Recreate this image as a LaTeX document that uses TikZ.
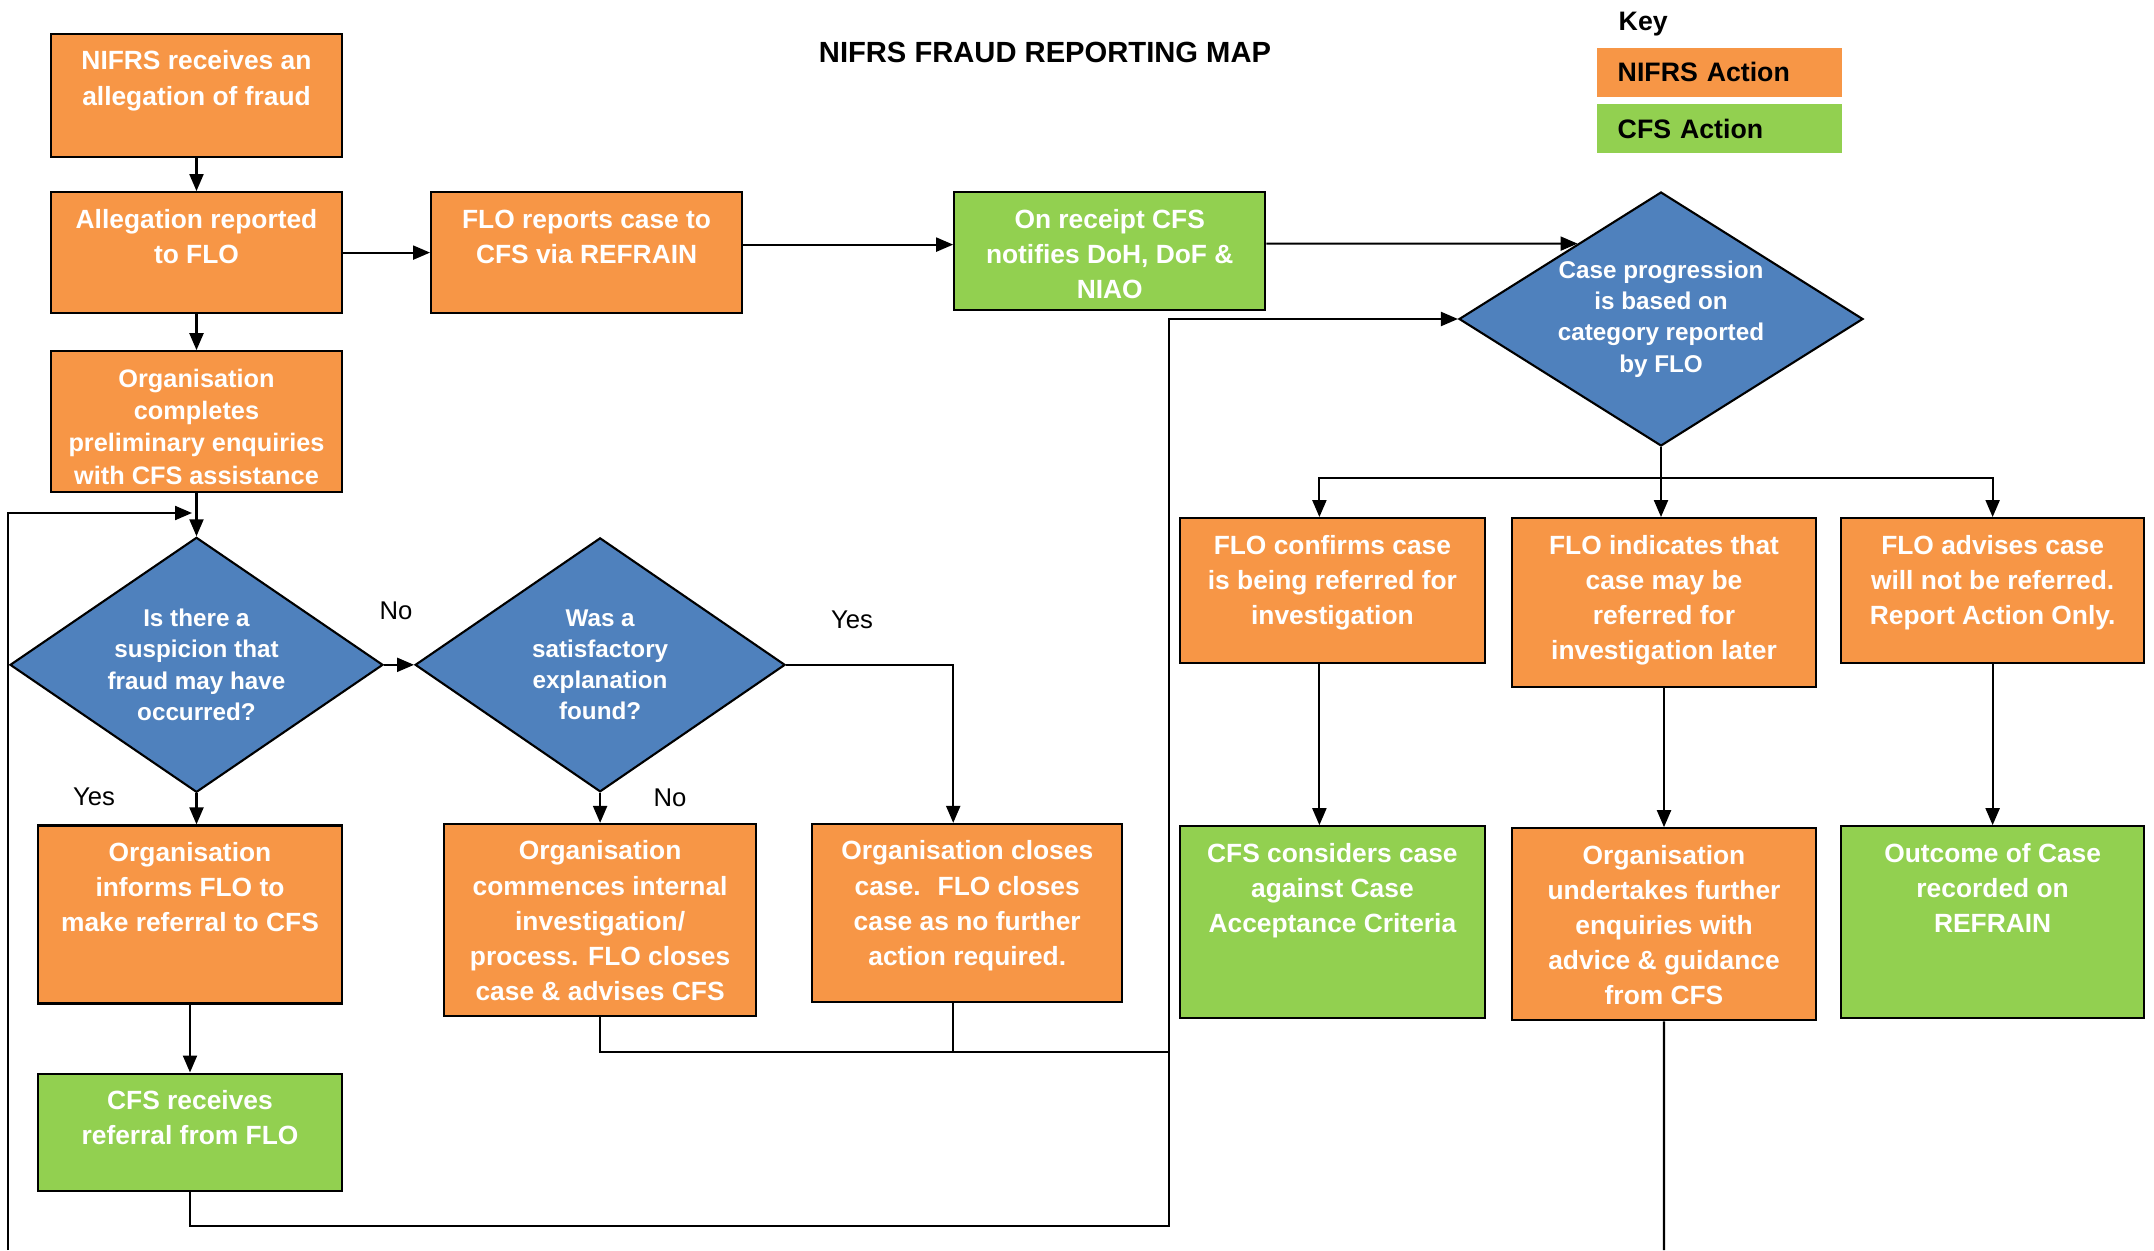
\documentclass[tikz,border=0pt]{standalone}
\usepackage{fontspec}
\setmainfont{Liberation Sans}
\usepackage{tikz}
\usetikzlibrary{positioning,shapes.geometric,arrows.meta,calc}
\definecolor{nforange}{HTML}{F79646}
\definecolor{nfgreen}{HTML}{92D050}
\definecolor{nfblue}{HTML}{4F81BD}
\newcommand{\boxtxt}[3]{\parbox[c][#2][t]{#1}{\centering\rule{0pt}{3.6mm}#3}}
\tikzset{
  act/.style={draw=black,line width=0.6pt,inner sep=0pt,text=white,font=\fontsize{7.5}{10}\selectfont\bfseries},
  nifrs/.style={act,fill=nforange},
  cfs/.style={act,fill=nfgreen},
  decide/.style={diamond,draw=black,line width=0.6pt,fill=nfblue,inner sep=0pt,aspect=1.5,text=white,align=center,font=\fontsize{6.9}{8.9}\selectfont\bfseries},
  keybox/.style={fill=#1,minimum width=24.5mm,minimum height=4.9mm,inner xsep=2.1mm,inner ysep=0pt,text width=20.3mm,align=left,font=\fontsize{7.6}{9}\selectfont\bfseries},
  yesno/.style={font=\fontsize{7.3}{9}\selectfont},
  lnk/.style={-{Triangle[length=1.7mm,width=1.4mm]},line width=0.6pt},
  wire/.style={line width=0.6pt},
}

\begin{document}
\begin{tikzpicture}
  \useasboundingbox (0,0) rectangle (21.54,-12.5);

  \node[font=\fontsize{8.3}{10}\selectfont\bfseries,anchor=base] (title) at (10.45,-0.63) {NIFRS FRAUD REPORTING MAP};

  % key
  \node[font=\fontsize{7.6}{9}\selectfont\bfseries,anchor=base west,inner sep=0pt] (keylbl) at (16.18,-0.31) {Key};
  \node[keybox=nforange,anchor=north west] (keynifrs) at (15.96,-0.47) {NIFRS Action};
  \node[keybox=nfgreen,below=0.6mm of keynifrs] (keycfs) {CFS Action};

  % left column
  \node[nifrs] (recv) at (1.965,-0.955) {\boxtxt{29.1mm}{12.3mm}{NIFRS receives an\\allegation of fraud}};
  \node[nifrs,below=3.3mm of recv] (alleg) {\boxtxt{29.1mm}{12.1mm}{Allegation reported\\to FLO}};
  \node[nifrs,below=3.6mm of alleg,font=\fontsize{7.2}{9.2}\selectfont\bfseries] (prelim) {\boxtxt{29.1mm}{14.1mm}{Organisation\\completes\\preliminary enquiries\\with CFS assistance}};
  \node[decide,below=4.3mm of prelim,minimum width=37.3mm,minimum height=25.5mm] (suspect) {Is there a\\suspicion that\\fraud may have\\occurred?};
  \node[nifrs,below=3.1mm of suspect,xshift=-0.65mm] (informs) {\boxtxt{30.4mm}{17.8mm}{Organisation\\informs FLO to\\make referral to CFS}};
  \node[cfs,below=6.8mm of informs] (cfsrecv) {\boxtxt{30.4mm}{11.7mm}{CFS receives\\referral from FLO}};

  % top row
  \node[nifrs,right=8.7mm of alleg] (floreport) {\boxtxt{31.1mm}{12.1mm}{FLO reports case to\\CFS via REFRAIN}};
  \node[cfs,right=21mm of floreport.north east,anchor=north west] (notify) {\boxtxt{31.1mm}{11.8mm}{On receipt CFS\\notifies DoH, DoF \&\\NIAO}};
  \node[decide,minimum width=40.4mm,minimum height=25.4mm,aspect=1.6] (prog) at (16.61,-3.19) {Case progression\\is based on\\category reported\\by FLO};

  % middle decisions
  \node[decide,right=3mm of suspect,minimum width=37mm,minimum height=25.4mm] (explain) {Was a\\satisfactory\\explanation\\found?};
  \node[nifrs,below=3mm of explain] (commence) {\boxtxt{31.2mm}{19.2mm}{Organisation\\commences internal\\investigation/\\process. FLO closes\\case \& advises CFS}};
  \node[nifrs,right=5.4mm of commence.north east,anchor=north west] (closes) {\boxtxt{31mm}{17.8mm}{Organisation closes\\case.~ FLO closes\\case as no further\\action required.}};

  % right column
  \node[nifrs,below=7mm of prog,xshift=0.3mm] (maylater) {\boxtxt{30.4mm}{16.9mm}{FLO indicates that\\case may be\\referred for\\investigation later}};
  \node[nifrs,left=2.5mm of maylater.north west,anchor=north east] (confirm) {\boxtxt{30.5mm}{14.5mm}{FLO confirms case\\is being referred for\\investigation}};
  \node[nifrs,right=2.3mm of maylater.north east,anchor=north west] (notref) {\boxtxt{30.3mm}{14.5mm}{FLO advises case\\will not be referred.\\Report Action Only.}};
  \node[cfs,below=16.1mm of confirm] (considers) {\boxtxt{30.5mm}{19.2mm}{CFS considers case\\against Case\\Acceptance Criteria}};
  \node[nifrs,below=13.9mm of maylater] (further) {\boxtxt{30.4mm}{19.2mm}{Organisation\\undertakes further\\enquiries with\\advice \& guidance\\from CFS}};
  \node[cfs,below=16.1mm of notref] (outcome) {\boxtxt{30.3mm}{19.2mm}{Outcome of Case\\recorded on\\REFRAIN}};

  % yes / no
  \node[yesno] (no1) at (3.96,-6.11) {No};
  \node[yesno] (yes1) at (0.94,-7.97) {Yes};
  \node[yesno] (no2) at (6.70,-7.98) {No};
  \node[yesno] (yes2) at (8.52,-6.20) {Yes};

  \coordinate (ne) at ($([yshift=0.75mm]notify.east)+(1,0)$);
  \coordinate (rtn) at (11.69,-12.26);
  \coordinate (merge) at (11.69,-10.52);
  \coordinate (loopin) at (0.08,-12.5);
  \coordinate (loopend) at (1.92,-5.13);
  \coordinate (split) at ($(prog.south)+(0,-3.1mm)$);
  \coordinate (furtherout) at (16.64,-12.5);

  \draw[lnk] (recv) -- (alleg); \draw[lnk] (alleg) -- (prelim); \draw[lnk] (prelim) -- (suspect);
  \draw[lnk] (alleg) -- (floreport);
  \draw[lnk] ([yshift=0.8mm]floreport.east) -- ([yshift=0.8mm]floreport.east -| notify.west);
  \draw[lnk] ([yshift=0.75mm]notify.east) -- (intersection of {[yshift=0.75mm]notify.east}--ne and prog.west--prog.north);
  \draw[lnk] (suspect) -- (explain);
  \draw[lnk] (suspect.south) -- (suspect.south |- informs.north);
  \draw[lnk] (explain) -- (commence);
  \draw[lnk] (explain.east) -| ([xshift=-1.4mm]closes.north);
  \draw[lnk] (informs) -- (cfsrecv);
  \draw[lnk] (cfsrecv.south) |- (rtn) |- (prog.west);
  \draw[wire] (commence.south) |- (merge);
  \draw[wire] ([xshift=-1.4mm]closes.south) -- ([xshift=-1.4mm]closes.south |- merge);
  \draw[lnk] (loopin) |- (loopend);
  \draw[lnk] (prog.south) -- (prog.south |- maylater.north);
  \draw[lnk] (split) -| ([xshift=-1.3mm]confirm.north);
  \draw[lnk] (split) -| (notref.north);
  \draw[lnk] ([xshift=-1.3mm]confirm.south) -- ([xshift=-1.3mm]considers.north);
  \draw[lnk] (maylater) -- (further);
  \draw[lnk] (notref) -- (outcome);
  \draw[wire] (further) -- (furtherout);
\end{tikzpicture}
\end{document}
